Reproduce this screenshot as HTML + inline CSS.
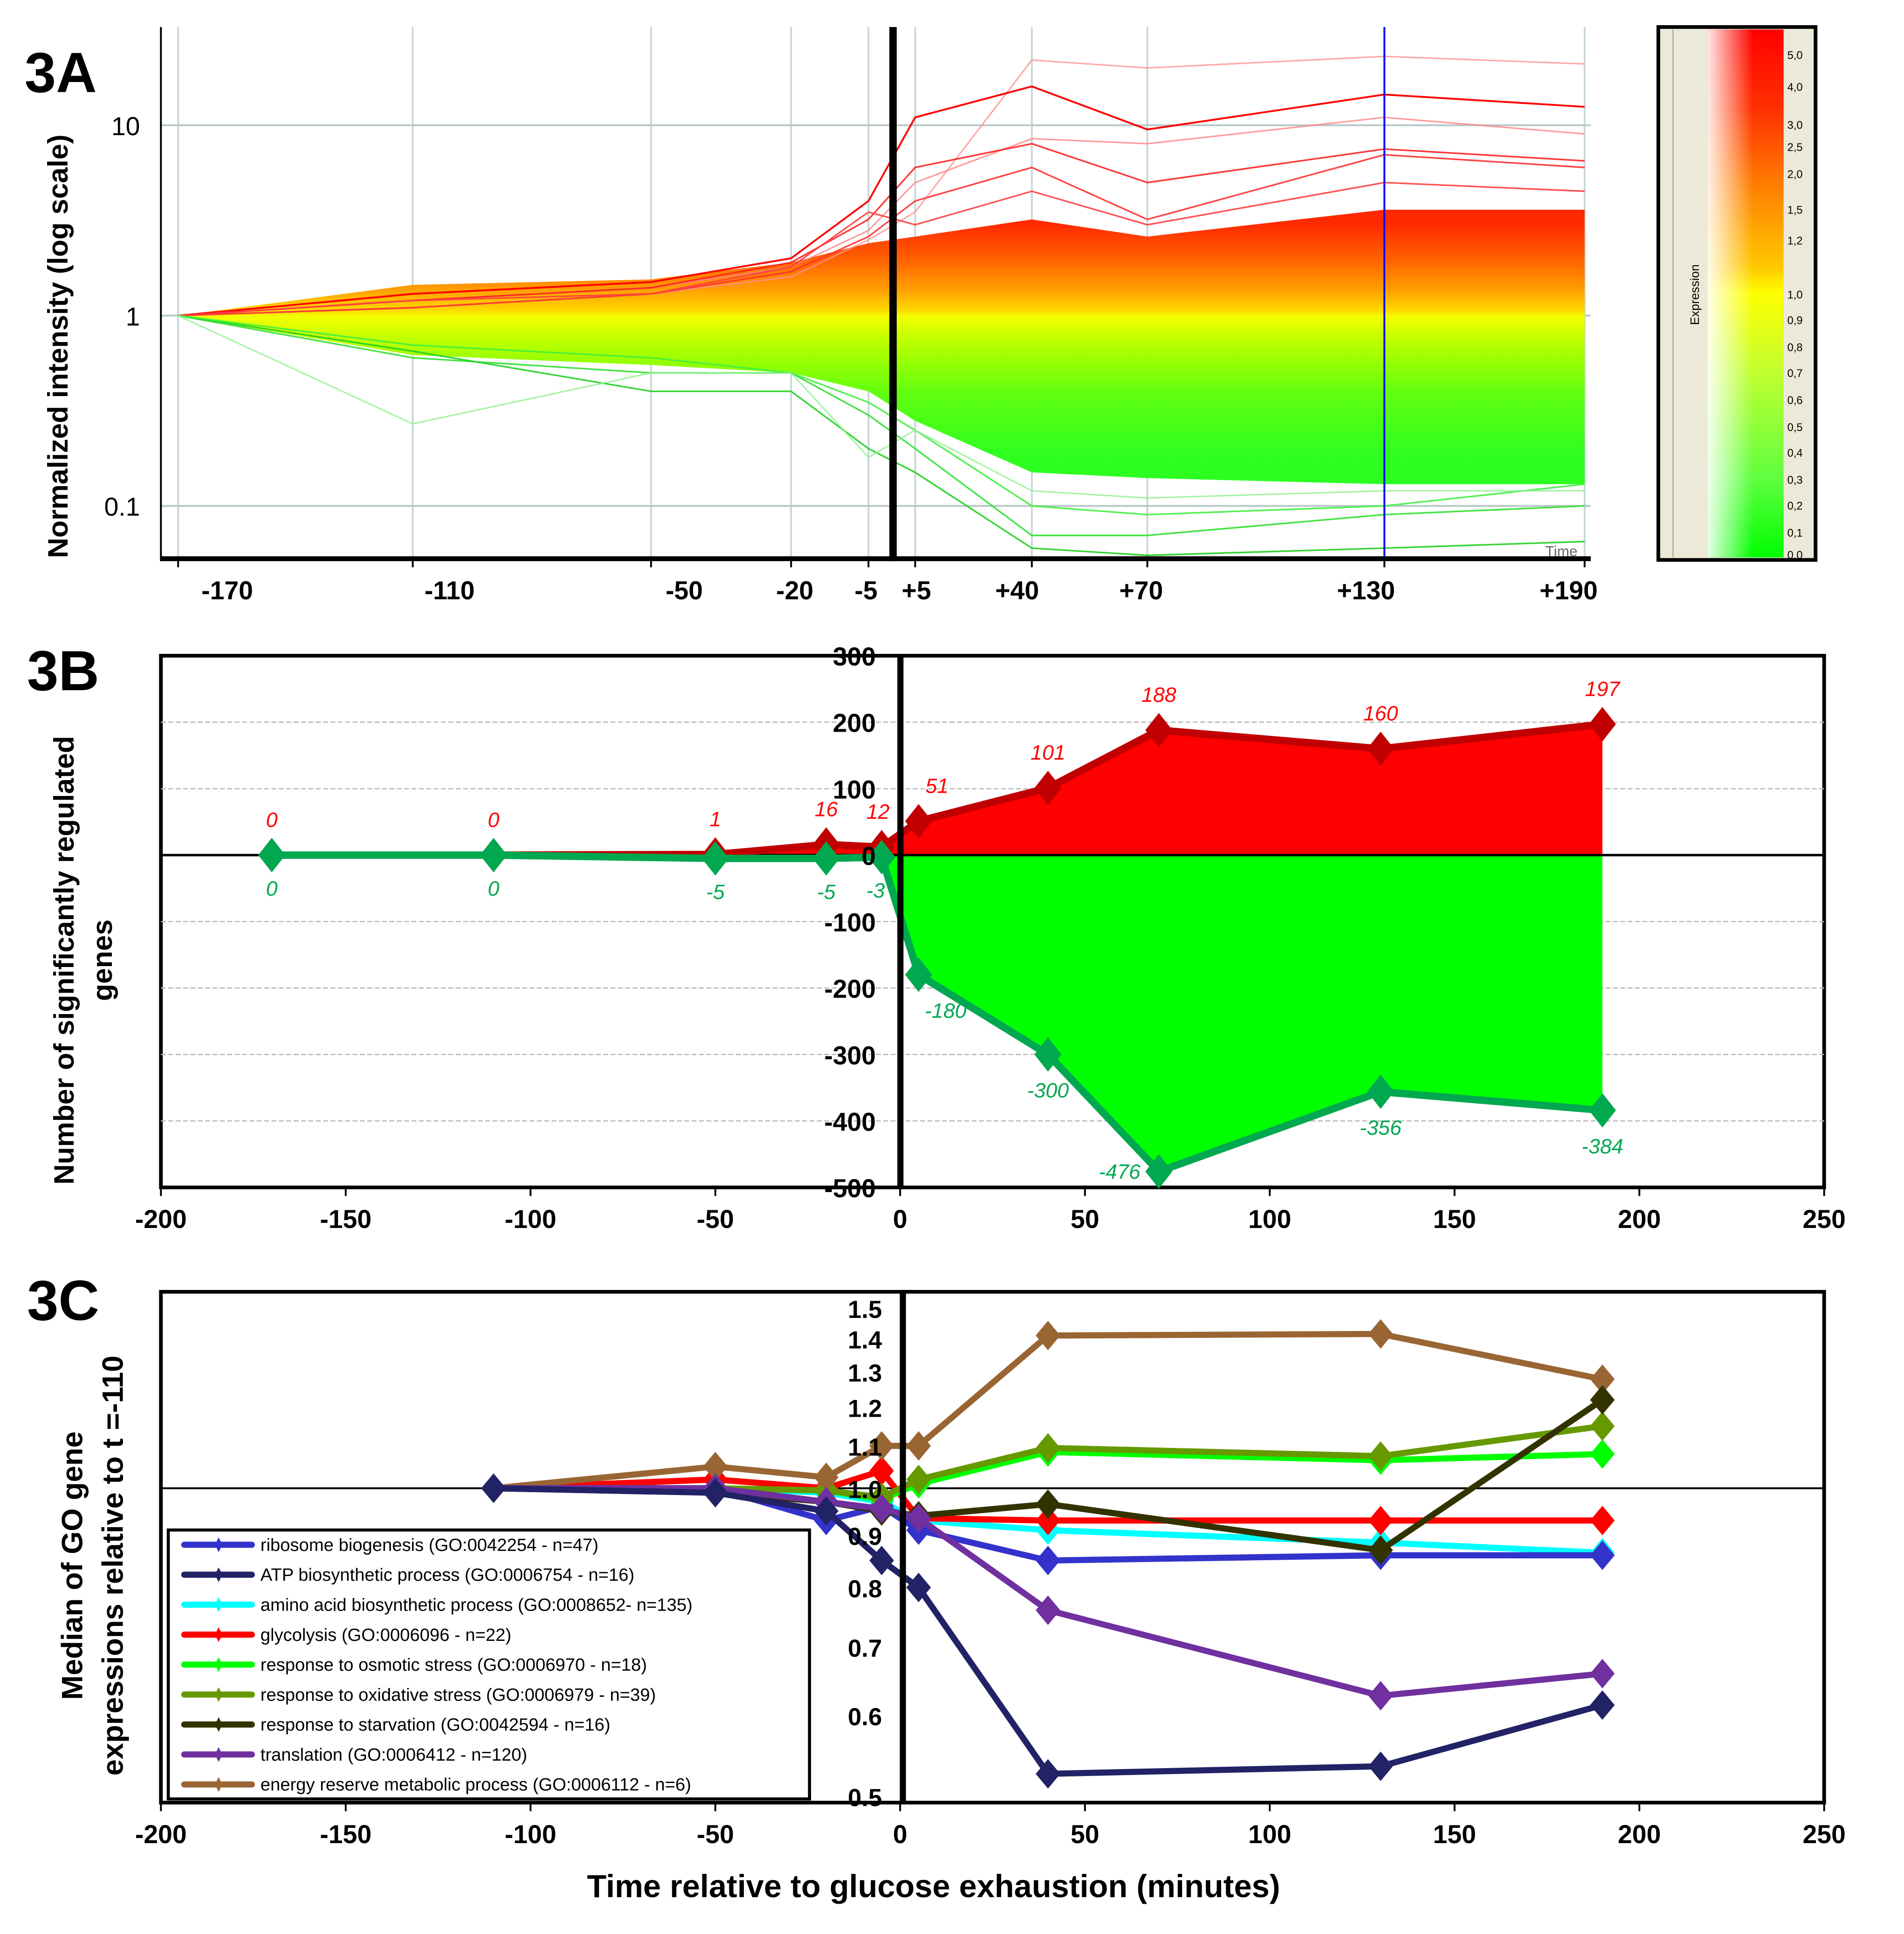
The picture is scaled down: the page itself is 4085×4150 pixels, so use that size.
<!DOCTYPE html>
<html><head><meta charset="utf-8"><style>
html,body{margin:0;padding:0;background:#fff}
svg{display:block}
text{font-family:"Liberation Sans",Arial,sans-serif}
</style></head><body>
<svg id="fig" xmlns="http://www.w3.org/2000/svg" width="4085" height="4150" viewBox="0 0 1550 1575" preserveAspectRatio="none">
<defs>
<linearGradient id="bandGrad" gradientUnits="userSpaceOnUse" x1="0" y1="22" x2="0" y2="455">
<stop offset="0" stop-color="#ff0000"/>
<stop offset="0.37" stop-color="#ff2a00"/>
<stop offset="0.44" stop-color="#ff6400"/>
<stop offset="0.49" stop-color="#ff9a00"/>
<stop offset="0.53" stop-color="#ffd400"/>
<stop offset="0.545" stop-color="#f4ff00"/>
<stop offset="0.58" stop-color="#c8ff00"/>
<stop offset="0.62" stop-color="#a0ff00"/>
<stop offset="0.69" stop-color="#60ff10"/>
<stop offset="0.8" stop-color="#30ff20"/>
<stop offset="1" stop-color="#20ff20"/>
</linearGradient>
<linearGradient id="cbGrad" x1="0" y1="0" x2="0" y2="1">
<stop offset="0" stop-color="#ff0000"/>
<stop offset="0.15" stop-color="#ff3000"/>
<stop offset="0.3" stop-color="#ff8000"/>
<stop offset="0.45" stop-color="#ffc800"/>
<stop offset="0.5" stop-color="#ffff00"/>
<stop offset="0.65" stop-color="#c0ff30"/>
<stop offset="0.85" stop-color="#60ff40"/>
<stop offset="1" stop-color="#00ff00"/>
</linearGradient>
<linearGradient id="cbWhite" x1="0" y1="0" x2="1" y2="0">
<stop offset="0" stop-color="#fff" stop-opacity="0.9"/>
<stop offset="0.6" stop-color="#fff" stop-opacity="0"/>
</linearGradient>
</defs>
</svg>
<script>
const NS="http://www.w3.org/2000/svg";
const svg=document.getElementById('fig');
function mk(tag,attrs,parent,txt){const e=document.createElementNS(NS,tag);for(const k in attrs)e.setAttribute(k,attrs[k]);if(txt!==undefined)e.textContent=txt;(parent||svg).appendChild(e);return e;}

/* ===== Panel 3A data ===== */
const timesA=[-170,-110,-50,-20,-5,5,40,70,130,190];
const tickLabelsA=["-170","-110","-50","-20","-5","+5","+40","+70","+130","+190"];
const bandMax=[1,1.45,1.55,1.9,2.4,2.6,3.2,2.6,3.6,3.6];
const bandMin=[1,0.62,0.55,0.5,0.4,0.28,0.15,0.14,0.13,0.13];
const redLine1=[1,1.3,1.5,2,4,11,16,9.5,14.5,12.5];
const redLine2=[1,1.2,1.4,1.9,3.2,6,8,5,7.5,6.5];
const redLine3=[1,1.1,1.3,1.7,2.6,4,6,3.2,7,6];
const redLine4=[1,1.2,1.3,1.8,3.5,3,4.5,3,5,4.5];
const pinkLine1=[1,1.1,1.3,1.6,2.5,3.5,22,20,23,21];
const pinkLine2=[1,1.2,1.4,1.8,2.8,5,8.5,8,11,9];
const greenLine1=[1,0.6,0.5,0.5,0.3,0.2,0.07,0.07,0.09,0.1];
const greenLine2=[1,0.65,0.4,0.4,0.2,0.15,0.06,0.055,0.06,0.065];
const greenLine3=[1,0.7,0.6,0.5,0.35,0.25,0.1,0.09,0.1,0.13];
const greenLine4=[1,0.27,0.5,0.5,0.18,0.25,0.12,0.11,0.12,0.12];
const yTicksA=[10,1,0.1];
const cbLabels=["5,0","4,0","3,0","2,5","2,0","1,5","1,2","1,0","0,9","0,8","0,7","0,6","0,5","0,4","0,3","0,2","0,1","0,0"];
const cbLabelY=[45,71,102,120,142,171,196,240,261,283,304,326,348,369,391,412,434,452];
const labelShiftA=[40,30,27,3,-2,1,-12,-5,-15,-13];

const anchT=[-170,-110,-50,-20,-5,5,40,70,130,190];
const anchX=[145,336,530,644,707,745,840,934,1127,1290];
function xA(t){for(let i=0;i<anchT.length-1;i++){if(t<=anchT[i+1]){const f=(t-anchT[i])/(anchT[i+1]-anchT[i]);return anchX[i]+f*(anchX[i+1]-anchX[i]);}}return anchX[anchX.length-1];}
function yA(v){return 257-155*Math.log10(v);}

const gA=mk('g',{});


mk('text',{x:20,y:75,'font-size':46,'font-weight':'bold'},gA,'3A');
timesA.forEach(t=>{const l=mk('line',{x1:xA(t),x2:xA(t),y1:22,y2:455,stroke:'#c8d8d8','stroke-width':1.5},gA);});
yTicksA.forEach(v=>{const l=mk('line',{x1:131,x2:1295,y1:yA(v),y2:yA(v),stroke:'#b8c8c8','stroke-width':1.5},gA);});
const clipA=mk('clipPath',{id:'clipA'},gA);mk('rect',{x:131,y:22,width:1164,height:433},clipA);
const plotA=mk('g',{'clip-path':'url(#clipA)'},gA);
let pts=timesA.map((t,i)=>xA(t)+','+yA(bandMax[i]));
for(let i=timesA.length-1;i>=0;i--)pts.push(xA(timesA[i])+','+yA(bandMin[i]));
const band=mk('polygon',{points:pts.join(' '),fill:'url(#bandGrad)'},plotA);


function lineA(arr,col,w,op,name){const p=mk('polyline',{points:timesA.map((t,i)=>xA(t)+','+yA(arr[i])).join(' '),fill:'none',stroke:col,'stroke-width':w,opacity:op},plotA);}
lineA(pinkLine1,'#ff9090',1.2,0.8,'gene-profile-line');
lineA(pinkLine2,'#ff8080',1.2,0.8,'gene-profile-line');
lineA(redLine1,'#ff0000',1.5,1,'gene-profile-line');
lineA(redLine2,'#ff2020',1.3,0.9,'gene-profile-line');
lineA(redLine3,'#ff3030',1.3,0.9,'gene-profile-line');
lineA(redLine4,'#ff4040',1.3,0.9,'gene-profile-line');
lineA(greenLine1,'#30e030',1.3,0.9,'gene-profile-line');
lineA(greenLine2,'#20d020',1.3,0.9,'gene-profile-line');
lineA(greenLine3,'#40f040',1.3,0.9,'gene-profile-line');
lineA(greenLine4,'#90f090',1.2,0.8,'gene-profile-line');
mk('line',{x1:1127,x2:1127,y1:22,y2:455,stroke:'#0000ff','stroke-width':1.5},gA);
mk('line',{x1:727,x2:727,y1:22,y2:457,stroke:'#000','stroke-width':6},gA);
mk('line',{x1:131,x2:131,y1:22,y2:457,stroke:'#000','stroke-width':1.5},gA);
mk('line',{x1:131,x2:1295,y1:455,y2:455,stroke:'#000','stroke-width':4},gA);
mk('text',{x:1258,y:453,'font-size':12,fill:'#666'},gA,'Time');
timesA.forEach((t,i)=>{mk('line',{x1:xA(t),x2:xA(t),y1:455,y2:462,stroke:'#000','stroke-width':1.5},gA);
const tx=mk('text',{x:xA(t)+labelShiftA[i],y:488,'font-size':21,'font-weight':'bold','text-anchor':'middle'},gA,tickLabelsA[i]);});
yTicksA.forEach(v=>{const tx=mk('text',{x:114,y:yA(v)+8,'font-size':21,'text-anchor':'end'},gA,String(v));});
const yt=mk('text',{x:0,y:0,'font-size':23,'font-weight':'bold','text-anchor':'middle',transform:'translate(55,282) rotate(-90)'},gA,'Normalized intensity (log scale)');

const cb=mk('g',{},gA);
mk('rect',{x:1350,y:22,width:128,height:434,fill:'#ece9d8',stroke:'#000','stroke-width':3},cb);
mk('line',{x1:1362,x2:1362,y1:24,y2:454,stroke:'#b0ad9c','stroke-width':1},cb);
mk('rect',{x:1390,y:24,width:62,height:430,fill:'url(#cbGrad)'},cb);
mk('rect',{x:1390,y:24,width:62,height:430,fill:'url(#cbWhite)'},cb);
mk('text',{x:0,y:0,'font-size':10,'text-anchor':'middle',transform:'translate(1383,240) rotate(-90)'},cb,'Expression');
cbLabels.forEach((s,i)=>{mk('text',{x:1455,y:cbLabelY[i]+3,'font-size':9},cb,s);});

/* ===== Panel 3B data ===== */
const timesB=[-170,-110,-50,-20,-5,5,40,70,130,190];
const upCounts=[0,0,1,16,12,51,101,188,160,197];
const downCounts=[0,0,-5,-5,-3,-180,-300,-476,-356,-384];
const yTicksB=[300,200,100,0,-100,-200,-300,-400,-500];
const xTicksB=[-200,-150,-100,-50,0,50,100,150,200,250];
function xB(t){return 131+(t+200)*(1354/450);}
function yB(v){return 534+(300-v)*(433/800);}
const gB=mk('g',{});
mk('text',{x:22,y:562,'font-size':46,'font-weight':'bold'},gB,'3B');
mk('rect',{x:131,y:534,width:1354,height:433,fill:'#fff',stroke:'#000','stroke-width':3},gB);
yTicksB.forEach(v=>{if(v!==300&&v!==-500&&v!==0){const l=mk('line',{x1:131,x2:1485,y1:yB(v),y2:yB(v),stroke:'#bbb','stroke-width':1,'stroke-dasharray':'4,2'},gB);}});
function area(vals,fill,name){let p=[xB(timesB[0])+','+yB(0)];timesB.forEach((t,i)=>p.push(xB(t)+','+yB(vals[i])));p.push(xB(timesB[timesB.length-1])+','+yB(0));const a=mk('polygon',{points:p.join(' '),fill:fill},gB);}
area(upCounts,'#ff0000','up-regulated-area');
area(downCounts,'#00ff00','down-regulated-area');
mk('line',{x1:131,x2:1485,y1:yB(0),y2:yB(0),stroke:'#000','stroke-width':2},gB);
function seriesB(vals,col,name){const p=mk('polyline',{points:timesB.map((t,i)=>xB(t)+','+yB(vals[i])).join(' '),fill:'none',stroke:col,'stroke-width':6,'stroke-linejoin':'round'},gB);
timesB.forEach((t,i)=>{const x=xB(t),y=yB(vals[i]);const d=mk('polygon',{points:`${x},${y-14} ${x+11},${y} ${x},${y+14} ${x-11},${y}`,fill:col},gB);});}
seriesB(upCounts,'#c00000','up-regulated');
seriesB(downCounts,'#00a850','down-regulated');
mk('line',{x1:733,x2:733,y1:534,y2:967,stroke:'#000','stroke-width':5},gB);
timesB.forEach((t,i)=>{const x=xB(t);
const a=mk('text',{x:x+(t==-5?-3:t==5?15:0),y:yB(upCounts[i])-23,'font-size':17,'font-style':'italic',fill:'#ff0000','text-anchor':'middle'},gB,String(upCounts[i]));
const dy=downCounts[i]<-100?35:33;
const b=mk('text',{x:x+(t==5?22:t==70?-32:t==-5?-5:0),y:yB(downCounts[i])+(t==70?6:dy),'font-size':17,'font-style':'italic',fill:'#00a850','text-anchor':'middle'},gB,String(downCounts[i]));});
yTicksB.forEach(v=>{const tx=mk('text',{x:713,y:yB(v)+8,'font-size':21,'font-weight':'bold','text-anchor':'end'},gB,String(v));});
xTicksB.forEach(v=>{mk('line',{x1:xB(v),x2:xB(v),y1:967,y2:974,stroke:'#000','stroke-width':1.5},gB);const tx=mk('text',{x:xB(v),y:1000,'font-size':21,'font-weight':'bold','text-anchor':'middle'},gB,String(v));});
const ytB=mk('text',{x:0,y:0,'font-size':23,'font-weight':'bold','text-anchor':'middle',transform:'translate(60,782) rotate(-90)'},gB,'Number of significantly regulated');
mk('text',{x:0,y:0,'font-size':23,'font-weight':'bold','text-anchor':'middle',transform:'translate(91,782) rotate(-90)'},gB,'genes');

/* ===== Panel 3C data ===== */
const timesC=[-110,-50,-20,-5,5,40,130,190];
const ribosome=[1,1.0,0.93,0.96,0.91,0.85,0.86,0.86];
const atp=[1,0.99,0.95,0.85,0.8,0.526,0.535,0.614];
const aminoAcid=[1,1.0,0.99,0.97,0.93,0.91,0.885,0.865];
const glycolysis=[1,1.02,1.0,1.04,0.935,0.93,0.93,0.93];
const osmotic=[1,1.0,0.995,0.975,1.01,1.085,1.065,1.08];
const oxidative=[1,1.0,0.995,0.98,1.02,1.095,1.075,1.15];
const starvation=[1,0.99,0.97,0.95,0.94,0.965,0.87,1.22];
const translation=[1,1.0,0.97,0.955,0.935,0.76,0.627,0.659];
const energyReserve=[1,1.05,1.025,1.1,1.1,1.41,1.415,1.278];
const yTicksC=[1.5,1.4,1.3,1.2,1.1,1.0,0.9,0.8,0.7,0.6,0.5];
const xTicksC=[-200,-150,-100,-50,0,50,100,150,200,250];
const legendLabels=["ribosome biogenesis (GO:0042254 - n=47)","ATP biosynthetic process (GO:0006754 - n=16)","amino acid biosynthetic process (GO:0008652- n=135)","glycolysis (GO:0006096 - n=22)","response to osmotic stress (GO:0006970 - n=18)","response to oxidative stress (GO:0006979 - n=39)","response to starvation (GO:0042594 - n=16)","translation (GO:0006412 - n=120)","energy reserve metabolic process (GO:0006112 - n=6)"];
const colorsC=['#3333cc','#222266','#00ffff','#ff0000','#00ff00','#669900','#333300','#7030a0','#996633'];
const seriesC=[ribosome,atp,aminoAcid,glycolysis,osmotic,oxidative,starvation,translation,energyReserve];
const namesC=['ribosome-biogenesis','atp-biosynthetic','amino-acid-biosynthetic','glycolysis','osmotic-stress','oxidative-stress','starvation','translation','energy-reserve'];
const drawOrder=[2,3,0,4,5,8,6,7,1];
function xC(t){return 131+(t+200)*(1354/450);}
function yC(v){return 1212-362*Math.log(v);}
const gC=mk('g',{});
mk('text',{x:22,y:1075,'font-size':46,'font-weight':'bold'},gC,'3C');
mk('rect',{x:131,y:1052,width:1354,height:416,fill:'#fff',stroke:'#000','stroke-width':3},gC);
mk('line',{x1:131,x2:1485,y1:yC(1),y2:yC(1),stroke:'#000','stroke-width':1.5},gC);
drawOrder.forEach(k=>{const vals=seriesC[k];const col=colorsC[k];
const p=mk('polyline',{points:timesC.map((t,i)=>xC(t)+','+yC(vals[i])).join(' '),fill:'none',stroke:col,'stroke-width':5,'stroke-linejoin':'round'},gC);


timesC.forEach((t,i)=>{const x=xC(t),y=yC(vals[i]);const d=mk('polygon',{points:`${x},${y-12} ${x+10},${y} ${x},${y+12} ${x-10},${y}`,fill:col},gC);

});});
mk('line',{x1:735,x2:735,y1:1052,y2:1468,stroke:'#000','stroke-width':5},gC);
yTicksC.forEach(v=>{const tx=mk('text',{x:718,y:yC(v)+8,'font-size':20,'font-weight':'bold','text-anchor':'end'},gC,v.toFixed(1));});
xTicksC.forEach(v=>{mk('line',{x1:xC(v),x2:xC(v),y1:1468,y2:1475,stroke:'#000','stroke-width':1.5},gC);const tx=mk('text',{x:xC(v),y:1501,'font-size':21,'font-weight':'bold','text-anchor':'middle'},gC,String(v));});
const lg=mk('g',{},gC);
mk('rect',{x:137,y:1246,width:522,height:219,fill:'#fff',stroke:'#000','stroke-width':2.5},lg);
legendLabels.forEach((s,i)=>{const y=1258+i*24.4;
const e=mk('g',{},lg);
mk('line',{x1:150,x2:205,y1:y,y2:y,stroke:colorsC[i],'stroke-width':5,'stroke-linecap':'round'},e);
mk('polygon',{points:`178,${y-6} 181,${y} 178,${y+6} 175,${y}`,fill:colorsC[i]},e);
mk('text',{x:212,y:y+5,'font-size':14.5},e,s);});
const ytC=mk('text',{x:0,y:0,'font-size':24,'font-weight':'bold','text-anchor':'middle',transform:'translate(67,1275) rotate(-90)'},gC,'Median of GO gene');
mk('text',{x:0,y:0,'font-size':24,'font-weight':'bold','text-anchor':'middle',transform:'translate(100,1275) rotate(-90)'},gC,'expressions relative to t =-110');
const xt=mk('text',{x:760,y:1545,'font-size':26,'font-weight':'bold','text-anchor':'middle'},gC,'Time relative to glucose exhaustion (minutes)');

</script>
</body></html>
